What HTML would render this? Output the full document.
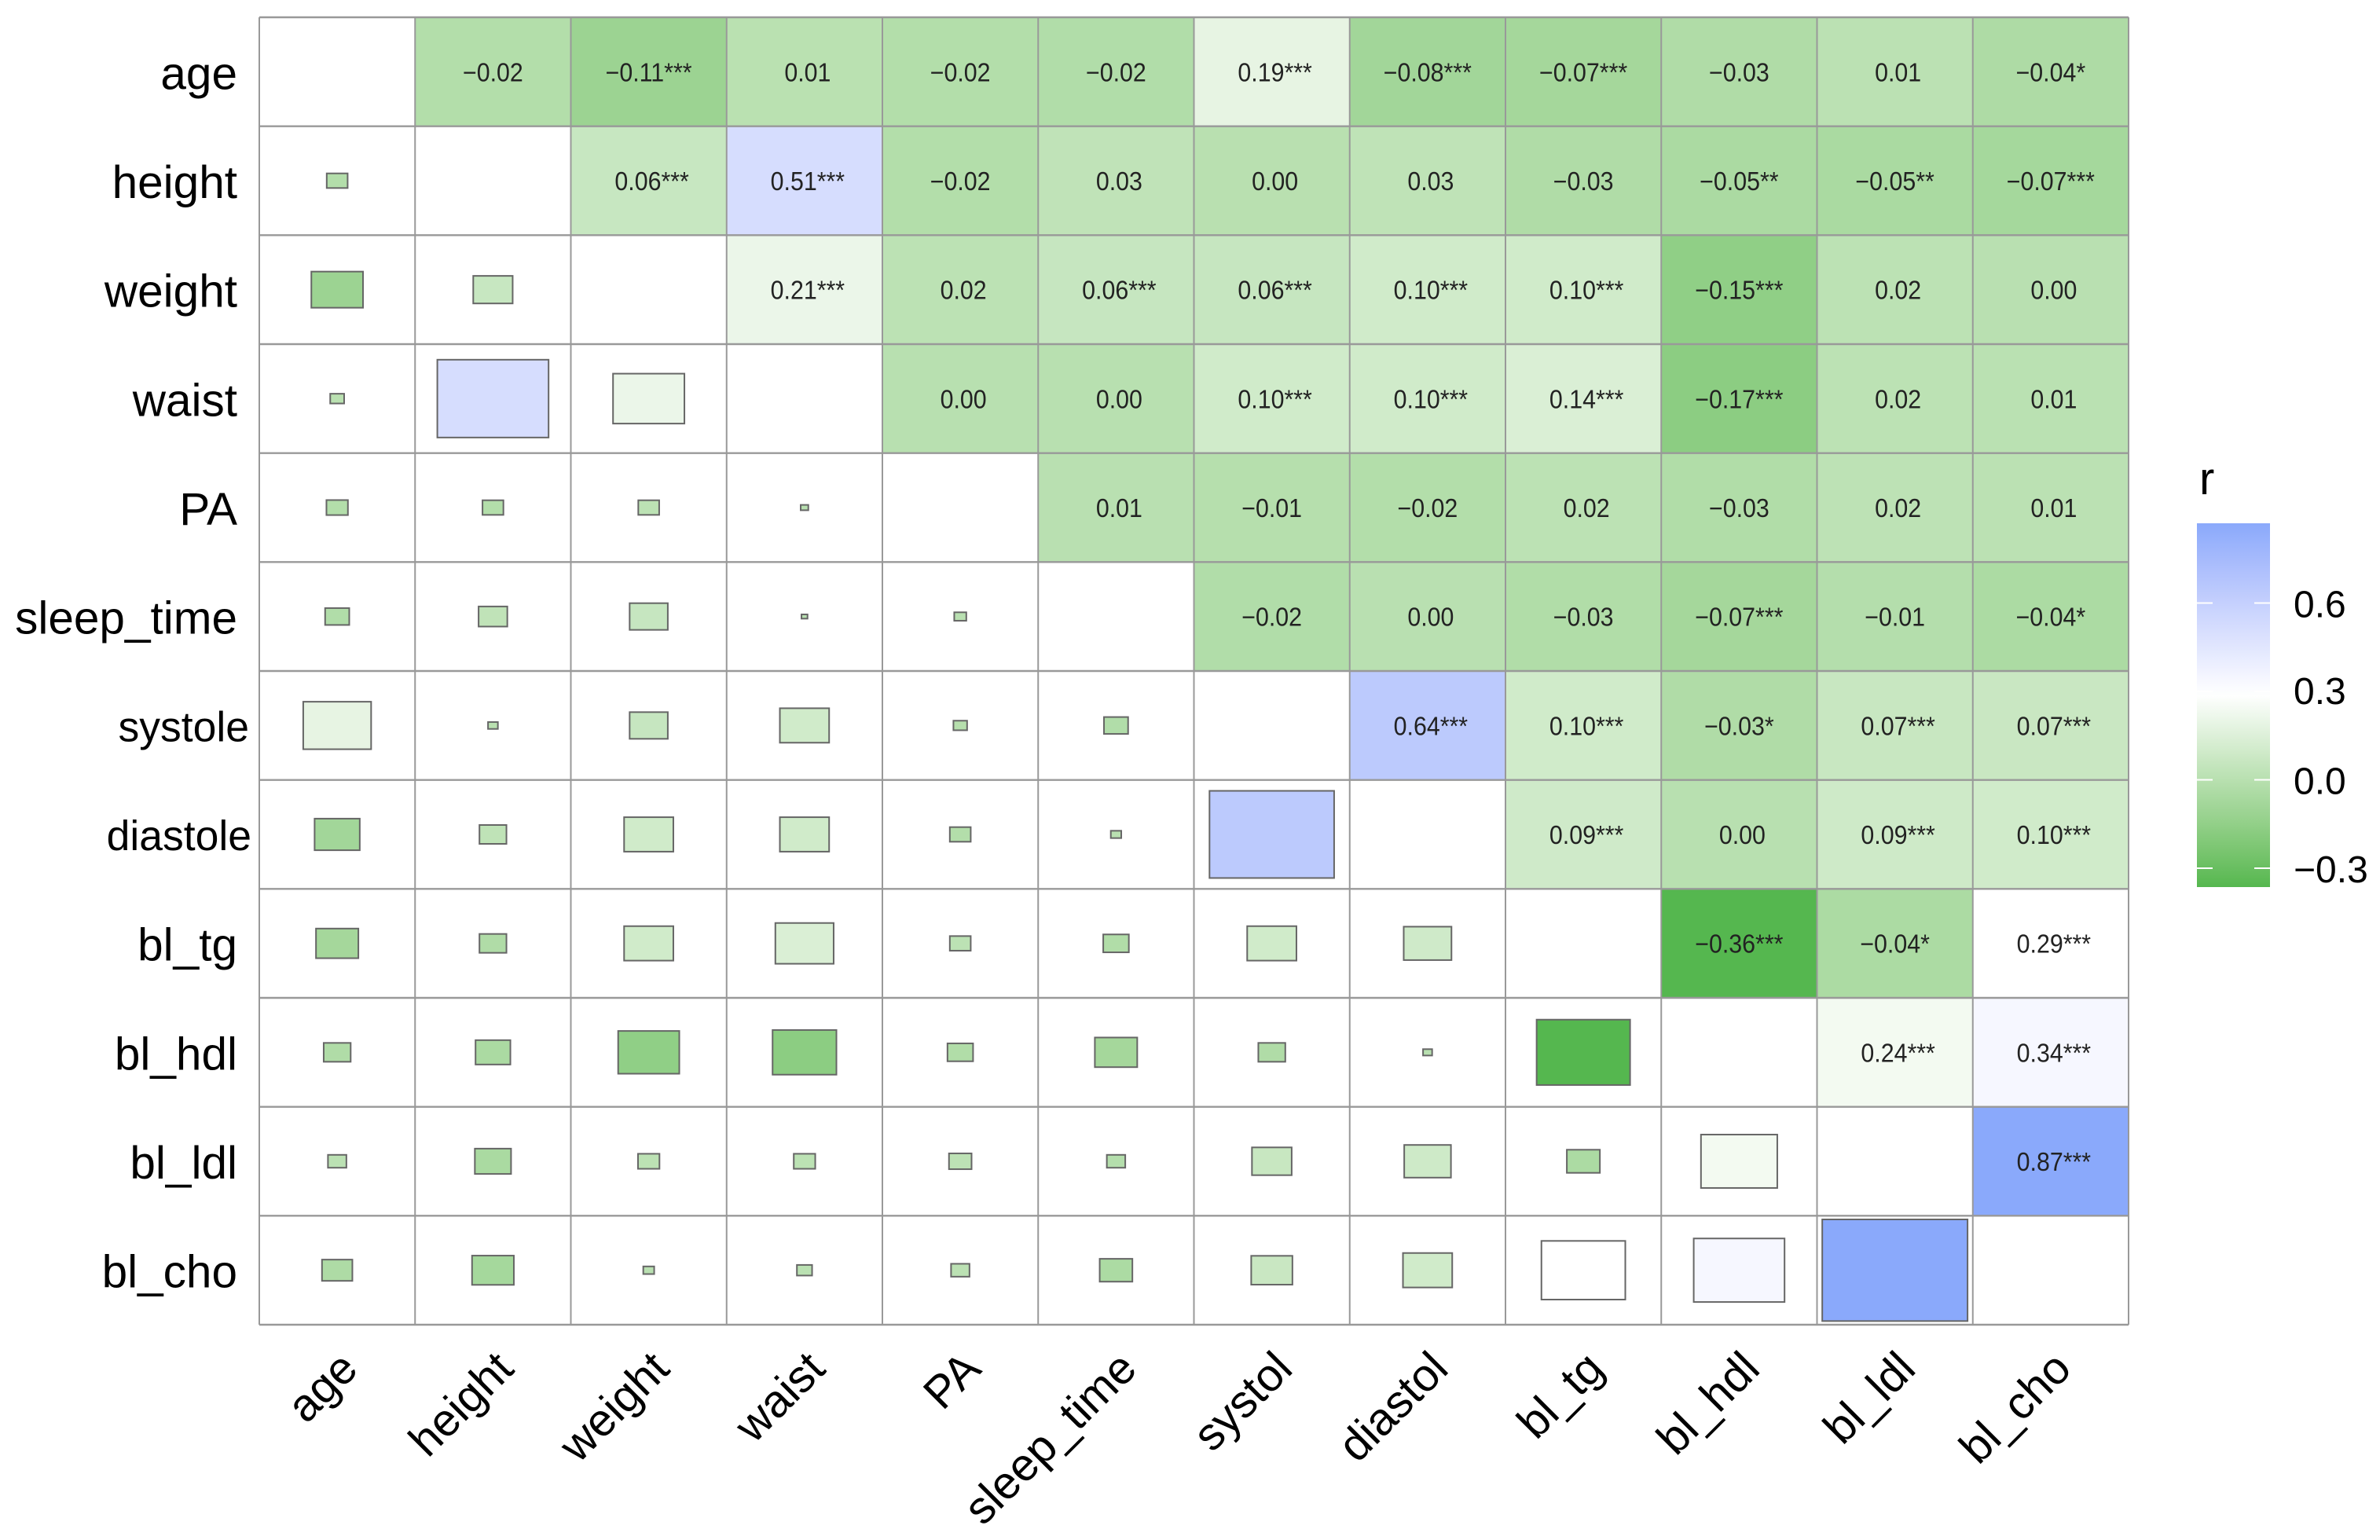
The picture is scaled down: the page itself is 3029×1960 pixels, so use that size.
<!DOCTYPE html>
<html lang="en">
<head>
<meta charset="utf-8">
<title>Correlation matrix</title>
<style>
html,body{margin:0;padding:0;background:#fff;width:3029px;height:1960px;overflow:hidden}
svg{display:block;font-family:"Liberation Sans",Arial,sans-serif}
</style>
</head>
<body>
<svg id="chart" xmlns="http://www.w3.org/2000/svg" width="3029" height="1960" viewBox="0 0 3029 1960">
  <defs>
    <linearGradient id="legend-gradient" x1="0" y1="1" x2="0" y2="0"></linearGradient>
  </defs>
  <rect x="0" y="0" width="3029" height="1960" fill="#ffffff"/>
  <g id="upper-cells"></g>
  <g id="grid"></g>
  <g id="lower-tiles"></g>
  <g id="cell-labels"></g>
  <g id="y-axis"></g>
  <g id="x-axis"></g>
  <g id="legend"></g>
</svg>
<script>
const rowLabels = ["age","height","weight","waist","PA","sleep_time","systole","diastole","bl_tg","bl_hdl","bl_ldl","bl_cho"];
const colLabels = ["age","height","weight","waist","PA","sleep_time","systol","diastol","bl_tg","bl_hdl","bl_ldl","bl_cho"];
const legendTicks = [-0.3, 0, 0.3, 0.6];

// Upper triangle of the correlation matrix, row by row (row i, columns i+1 onward).
const corrAge = [-0.018,-0.11,0.008,-0.019,-0.024,0.19,-0.084,-0.074,-0.03,0.014,-0.038];
const corrHeight = [0.064,0.51,-0.018,0.034,0.004,0.03,-0.03,-0.05,-0.054,-0.072];
const corrWeight = [0.21,0.018,0.06,0.06,0.10,0.10,-0.154,0.019,0.0049];
const corrWaist = [0.0024,0.0015,0.10,0.10,0.14,-0.168,0.019,0.0095];
const corrPA = [0.006,-0.0077,-0.018,0.018,-0.027,0.021,0.014];
const corrSleep = [-0.024,0.0045,-0.027,-0.074,-0.014,-0.044];
const corrSystole = [0.64,0.10,-0.03,0.065,0.07];
const corrDiastole = [0.094,0.0034,0.09,0.10];
const corrTg = [-0.36,-0.045,0.29];
const corrHdl = [0.24,0.34];
const corrLdl = [0.87];

const starsAge = ["","***","","","","***","***","***","","","*"];
const starsHeight = ["***","***","","","","","","**","**","***"];
const starsWeight = ["***","","***","***","***","***","***","",""];
const starsWaist = ["","","***","***","***","***","",""];
const starsPA = ["","","","","","",""];
const starsSleep = ["","","","***","","*"];
const starsSystole = ["***","***","*","***","***"];
const starsDiastole = ["***","","***","***"];
const starsTg = ["***","*","***"];
const starsHdl = ["***","***"];
const starsLdl = ["***"];

const corrRows = [corrAge,corrHeight,corrWeight,corrWaist,corrPA,corrSleep,corrSystole,corrDiastole,corrTg,corrHdl,corrLdl];
const starRows = [starsAge,starsHeight,starsWeight,starsWaist,starsPA,starsSleep,starsSystole,starsDiastole,starsTg,starsHdl,starsLdl];

const NS = "http://www.w3.org/2000/svg";
const plotLeft = 330, plotRight = 2709, plotTop = 22, plotBottom = 1686;
const cellW = (plotRight - plotLeft) / colLabels.length;
const cellH = (plotBottom - plotTop) / rowLabels.length;
const xLeft = i => plotLeft + i * cellW;
const yTop = i => plotTop + i * cellH;
const xMid = i => xLeft(i) + cellW / 2;
const yMid = i => yTop(i) + cellH / 2;

// Colour scale: Lab interpolation low -> white -> high
const scaleLow = -0.36, scaleMid = 0.29, scaleHigh = 0.87;
function srgbToLab(hex){
  const c=[1,3,5].map(k=>parseInt(hex.substr(k,2),16)/255).map(v=>v<=0.04045?v/12.92:Math.pow((v+0.055)/1.055,2.4));
  const X=(0.4124*c[0]+0.3576*c[1]+0.1805*c[2])/0.95047,Y=0.2126*c[0]+0.7152*c[1]+0.0722*c[2],Z=(0.0193*c[0]+0.1192*c[1]+0.9505*c[2])/1.08883;
  const f=t=>t>0.008856?Math.cbrt(t):7.787*t+16/116;
  return [116*f(Y)-16,500*(f(X)-f(Y)),200*(f(Y)-f(Z))];
}
function labToCss(L,a,b){
  const fy=(L+16)/116,fx=a/500+fy,fz=fy-b/200;
  const g=t=>t*t*t>0.008856?t*t*t:(t-16/116)/7.787;
  const X=g(fx)*0.95047,Y=g(fy),Z=g(fz)*1.08883;
  const lin=[3.2406*X-1.5372*Y-0.4986*Z,-0.9689*X+1.8758*Y+0.0415*Z,0.0557*X-0.2040*Y+1.0570*Z];
  const out=lin.map(v=>{v=Math.max(0,Math.min(1,v));return Math.round(255*(v<=0.0031308?12.92*v:1.055*Math.pow(v,1/2.4)-0.055));});
  return "rgb("+out.join(",")+")";
}
const labLow=srgbToLab("#55b74f"),labMid=srgbToLab("#ffffff"),labHigh=srgbToLab("#8aa9fb");
function fillFor(r){
  const v=Math.max(scaleLow,Math.min(scaleHigh,r));
  let from,to,t;
  if(v<scaleMid){from=labMid;to=labLow;t=(scaleMid-v)/(scaleMid-scaleLow);}
  else{from=labMid;to=labHigh;t=(v-scaleMid)/(scaleHigh-scaleMid);}
  return labToCss(from[0]+(to[0]-from[0])*t,from[1]+(to[1]-from[1])*t,from[2]+(to[2]-from[2])*t);
}
function fmt(r){
  const s=Math.abs(r).toFixed(2);
  return (r<0&&s!=="0.00"?"\u2212":"")+s;
}
function make(parent,tag,attrs){
  const el=document.createElementNS(NS,tag);
  Object.keys(attrs).forEach(k=>el.setAttribute(k,attrs[k]));
  parent.appendChild(el);
  return el;
}

const upper=document.getElementById("upper-cells");
const lower=document.getElementById("lower-tiles");
const labels=document.getElementById("cell-labels");
corrRows.forEach((vals,i)=>{
  vals.forEach((r,k)=>{
    const j=i+1+k;
    const name=rowLabels[i]+"-"+colLabels[j];
    // upper triangle: full cell with printed value
    const cell=make(upper,"rect",{x:xLeft(j),y:yTop(i),width:cellW,height:cellH,fill:fillFor(r)});
    
    
    const shift=r<0?0:4;
    const t=make(labels,"text",{transform:"translate("+(xMid(j)+shift)+","+(yMid(i)+12)+") scale(0.92,1)","text-anchor":"middle","font-size":33,fill:"#222"});
    t.textContent=fmt(r)+starRows[i][k];
    
    
    // lower triangle: tile sized by |r|
    const f=Math.sqrt(Math.abs(r));
    const w=f*cellW,h=f*cellH;
    const tile=make(lower,"rect",{x:xMid(i)-w/2,y:yMid(j)-h/2,width:w,height:h,fill:fillFor(r),stroke:"#666666","stroke-width":2});
    
    
  });
});

const grid=document.getElementById("grid");
for(let i=0;i<=colLabels.length;i++){
  const l=make(grid,"line",{x1:xLeft(i),x2:xLeft(i),y1:plotTop,y2:plotBottom,stroke:"#999999","stroke-width":2});
  
  
}
for(let i=0;i<=rowLabels.length;i++){
  const l=make(grid,"line",{x1:plotLeft,x2:plotRight,y1:yTop(i),y2:yTop(i),stroke:"#999999","stroke-width":2.4});
  
  
}

const yAxis=document.getElementById("y-axis");
rowLabels.forEach((lab,i)=>{
  const small=lab==="systole"||lab==="diastole";
  const t=make(yAxis,"text",{x:small?(lab==="systole"?317:320):302,y:yMid(i)+(small?20:22),"text-anchor":"end","font-size":small?53.5:58.5,fill:"#000"});
  t.textContent=lab;
  
  
});

const xAxis=document.getElementById("x-axis");
colLabels.forEach((lab,i)=>{
  const ax=xMid(i)+29,ay=1745;
  const t=make(xAxis,"text",{transform:"translate("+ax+","+ay+") rotate(-45)","text-anchor":"end","font-size":58,fill:"#000"});
  t.textContent=lab;
  
  
});

// Legend
const legend=document.getElementById("legend");
const barLeft=2796,barRight=2889,barTop=666,barBottom=1129;
const legendY=v=>992.5-v*375;
const grad=document.getElementById("legend-gradient");
for(let s=0;s<=40;s++){
  const v=scaleLow+(scaleHigh-scaleLow)*s/40;
  make(grad,"stop",{offset:(s/40*100)+"%","stop-color":fillFor(v)});
}
const title=make(legend,"text",{x:2799,y:629,"font-size":58,fill:"#000"});
title.textContent="r";


const bar=make(legend,"rect",{x:barLeft,y:barTop,width:barRight-barLeft,height:barBottom-barTop,fill:"url(#legend-gradient)"});


legendTicks.forEach(v=>{
  const y=legendY(v);
  [[barLeft,barLeft+20],[barRight-20,barRight]].forEach(p=>{
    const m=make(legend,"line",{x1:p[0],x2:p[1],y1:y,y2:y,stroke:"#ffffff","stroke-width":2});
    
    
  });
  const t=make(legend,"text",{x:2919,y:y+(v===0.3?16:18),"font-size":48,fill:"#000"});
  t.textContent=(v<0?"\u2212":"")+Math.abs(v).toFixed(1);
  
  
});
</script>
</body>
</html>
